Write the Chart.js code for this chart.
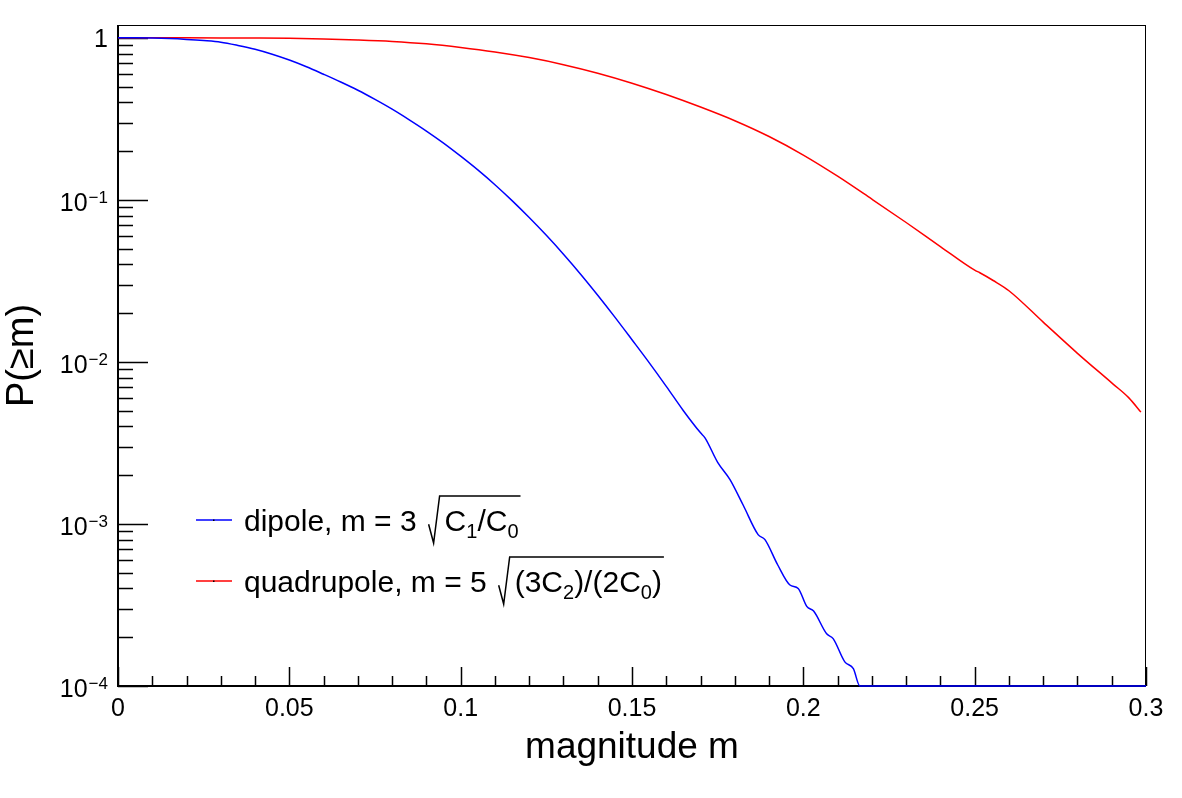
<!DOCTYPE html>
<html>
<head>
<meta charset="utf-8">
<script src="https://cdn.jsdelivr.net/npm/chart.js@4.4.1/dist/chart.umd.min.js"></script>
<style>
  html, body { margin: 0; padding: 0; background: #fff; }
  canvas { display: block; }
</style>
</head>
<body>
<canvas id="chart_pm" width="1182" height="798"></canvas>
<script>
// values
const dipoleM = [0, 0.005, 0.01, 0.015, 0.02, 0.025, 0.03, 0.035, 0.04, 0.045,
    0.05, 0.055, 0.06, 0.065, 0.07, 0.075, 0.08, 0.085, 0.09, 0.095,
    0.1, 0.105, 0.11, 0.115, 0.12, 0.125, 0.13, 0.135, 0.14, 0.145,
    0.15, 0.155, 0.16, 0.165, 0.17, 0.1713, 0.175, 0.1786, 0.1825, 0.1868,
    0.1888, 0.1925, 0.1961, 0.1985, 0.201, 0.203, 0.2068, 0.2087, 0.2121, 0.2146,
    0.2165, 0.22, 0.25, 0.3];
const dipoleP = [1, 1, 0.997, 0.99, 0.978, 0.962, 0.94, 0.898, 0.85, 0.792,
    0.729, 0.663, 0.596, 0.534, 0.475, 0.417, 0.363, 0.312, 0.266, 0.224,
    0.186, 0.153, 0.124, 0.0989, 0.0778, 0.0604, 0.0462, 0.0348, 0.0258, 0.0189,
    0.0137, 0.0099, 0.00707, 0.005, 0.00365, 0.0034, 0.0024, 0.00188, 0.0013, 0.00086,
    0.0008, 0.00056, 0.00042, 0.0004, 0.00031, 0.00029, 0.00021, 0.000196, 0.000141, 0.000128,
    0.0001, 0, 0, 0];

const quadM = [0, 0.01, 0.02, 0.03, 0.04, 0.05, 0.06, 0.07, 0.08, 0.09,
    0.1, 0.11, 0.12, 0.13, 0.14, 0.15, 0.16, 0.17, 0.18, 0.19,
    0.2, 0.21, 0.22, 0.23, 0.24, 0.25, 0.2515, 0.2554, 0.26, 0.27,
    0.28, 0.2904, 0.295, 0.2985];
const quadP = [1, 1, 1, 0.999, 0.997, 0.993, 0.984, 0.97, 0.95, 0.918,
    0.872, 0.818, 0.755, 0.683, 0.605, 0.525, 0.447, 0.374, 0.308, 0.246,
    0.189, 0.14, 0.101, 0.0725, 0.0515, 0.0368, 0.0355, 0.0318, 0.0275, 0.0176,
    0.0113, 0.0073, 0.006, 0.0049];

const xTicks = [0, 0.05, 0.1, 0.15, 0.2, 0.25, 0.3];
const yDecades = [-4, -3, -2, -1, 0];
const yMin = 1e-4;
const yMax = 1.2;

const font = "'Liberation Sans', Arial, Helvetica, sans-serif";

// ROOT draws points under the axis minimum on the bottom edge
function toPoints(ms, ps) {
    return ms.map((m, i) => ({ x: m, y: Math.max(ps[i], yMin) }));
}

function drawSqrt(ctx, x, yTop, yBot, barEnd) {
    const h = yBot - yTop;
    ctx.beginPath();
    ctx.moveTo(x, yBot - h * 0.4);
    ctx.lineTo(x + 5, yBot);
    ctx.lineTo(x + 11, yTop);
    ctx.lineTo(barEnd, yTop);
    ctx.stroke();
}

// draws a run of [text, size, dy] pieces and returns the end x
function drawRun(ctx, x, y, parts) {
    parts.forEach(p => {
        ctx.font = p[1] + "px " + font;
        ctx.fillText(p[0], x, y + p[2]);
        x += ctx.measureText(p[0]).width;
    });
    return x;
}

const rootAxes = {
    id: "rootAxes",
    beforeDatasetsDraw(chart) {
        const ctx = chart.ctx;
        const a = chart.chartArea;
        const xs = chart.scales.x, ys = chart.scales.y;
        ctx.save();
        ctx.strokeStyle = "#000";
        ctx.lineWidth = 1;
        ctx.strokeRect(a.left + 0.5, a.top + 0.5, a.right - a.left - 1, a.bottom - a.top);
        ctx.lineWidth = 2;
        ctx.beginPath();
        ctx.moveTo(a.left, a.top);
        ctx.lineTo(a.left, a.bottom);
        ctx.lineTo(a.right, a.bottom);
        ctx.stroke();

        // x ticks, pointing into the frame
        ctx.lineWidth = 1.5;
        ctx.beginPath();
        for (let i = 0; i <= 30; i++) {
            const px = Math.round(xs.getPixelForValue(i / 100)) + 0.5;
            const len = i % 5 === 0 ? 19 : 10;
            ctx.moveTo(px, a.bottom);
            ctx.lineTo(px, a.bottom - len);
        }
        // y ticks, log decades and 2..9
        yDecades.forEach(d => {
            for (let k = 1; k <= 9; k++) {
                const v = k * Math.pow(10, d);
                if (v < yMin || v > yMax) continue;
                const py = Math.round(ys.getPixelForValue(v)) + 0.5;
                const len = k === 1 ? 30 : 15;
                ctx.moveTo(a.left, py);
                ctx.lineTo(a.left + len, py);
            }
        });
        ctx.stroke();

        // y labels: 1, 10^-1 ... 10^-4
        ctx.fillStyle = "#000";
        ctx.textAlign = "right";
        ctx.textBaseline = "alphabetic";
        yDecades.forEach(d => {
            const py = ys.getPixelForValue(Math.pow(10, d));
            const right = a.left - 10;
            if (d === 0) {
                ctx.font = "25px " + font;
                ctx.fillText("1", right, py + 9);
                return;
            }
            const sup = "\u2212" + (-d);
            ctx.font = "17px " + font;
            const ws = ctx.measureText(sup).width;
            ctx.fillText(sup, right, py + 3);
            ctx.font = "25px " + font;
            ctx.fillText("10", right - ws - 1, py + 11);
        });
        ctx.restore();
    },
    afterDraw(chart) {
        const ctx = chart.ctx;
        const sets = chart.data.datasets;
        ctx.save();
        ctx.textAlign = "left";
        ctx.textBaseline = "alphabetic";
        ctx.fillStyle = "#000";

        const rows = [
            { y: 520, base: 531, label: "dipole, m = 3",
              body: [["C", 30, 0], ["1", 20, 7], ["/C", 30, 0], ["0", 20, 7]] },
            { y: 581, base: 592, label: "quadrupole, m = 5",
              body: [["(3C", 30, 0], ["2", 20, 7], [")/(2C", 30, 0], ["0", 20, 7], [")", 30, 0]] }
        ];
        rows.forEach((r, i) => {
            ctx.strokeStyle = sets[i].borderColor;
            ctx.lineWidth = 1.5;
            ctx.beginPath();
            ctx.moveTo(196, r.y);
            ctx.lineTo(232, r.y);
            ctx.stroke();
            ctx.fillStyle = "#000";
            ctx.fillRect(213, r.y - 0.5, 1.5, 1.5);

            ctx.font = "30px " + font;
            ctx.fillText(r.label, 244, r.base);
            const sx = 244 + ctx.measureText(r.label).width + 12;
            const end = drawRun(ctx, sx + 16, r.base, r.body);
            ctx.strokeStyle = "#000";
            ctx.lineWidth = 1.5;
            drawSqrt(ctx, sx, r.base - 35, r.base + 12, end + 2);
        });
        ctx.restore();
    }
};

const chart_pm = new Chart(document.getElementById("chart_pm"), {
    type: "line",
    data: {
        datasets: [{
            label: "dipole",
            data: toPoints(dipoleM, dipoleP),
            borderColor: "rgb(0, 0, 255)",
            borderWidth: 1.5,
            pointRadius: 0,
            cubicInterpolationMode: "monotone",
            clip: 3,
        }, {
            label: "quadrupole",
            data: toPoints(quadM, quadP),
            borderColor: "rgb(255, 0, 0)",
            borderWidth: 1.5,
            pointRadius: 0,
            cubicInterpolationMode: "monotone",
            clip: 3,
        }]
    },
    options: {
        responsive: false,
        animation: false,
        devicePixelRatio: 1,
        layout: { padding: { top: 25, right: 36, left: 0, bottom: 0 } },
        plugins: { legend: { display: false }, tooltip: { enabled: false } },
        scales: {
            x: {
                type: "linear",
                min: 0,
                max: 0.3,
                afterFit: s => { s.height = 112; },
                afterBuildTicks: s => { s.ticks = xTicks.map(v => ({ value: v })); },
                grid: { display: false, drawTicks: false },
                border: { display: false },
                ticks: {
                    autoSkip: false,
                    maxRotation: 0,
                    padding: 8,
                    color: "#000",
                    font: { family: font, size: 25 },
                    callback: v => String(+v.toFixed(2)),
                },
                title: {
                    display: true,
                    text: "magnitude m",
                    color: "#000",
                    font: { family: font, size: 37 },
                    padding: { top: 0, bottom: 28 },
                },
            },
            y: {
                type: "logarithmic",
                min: yMin,
                max: yMax,
                afterFit: s => { s.width = 118; },
                grid: { display: false, drawTicks: false },
                border: { display: false },
                ticks: { display: false },
                title: {
                    display: true,
                    text: "P(\u2265m)",
                    color: "#000",
                    font: { family: font, size: 38 },
                    padding: { top: 0, bottom: 0 },
                },
            },
        },
    },
    plugins: [rootAxes],
});
</script>
</body>
</html>
